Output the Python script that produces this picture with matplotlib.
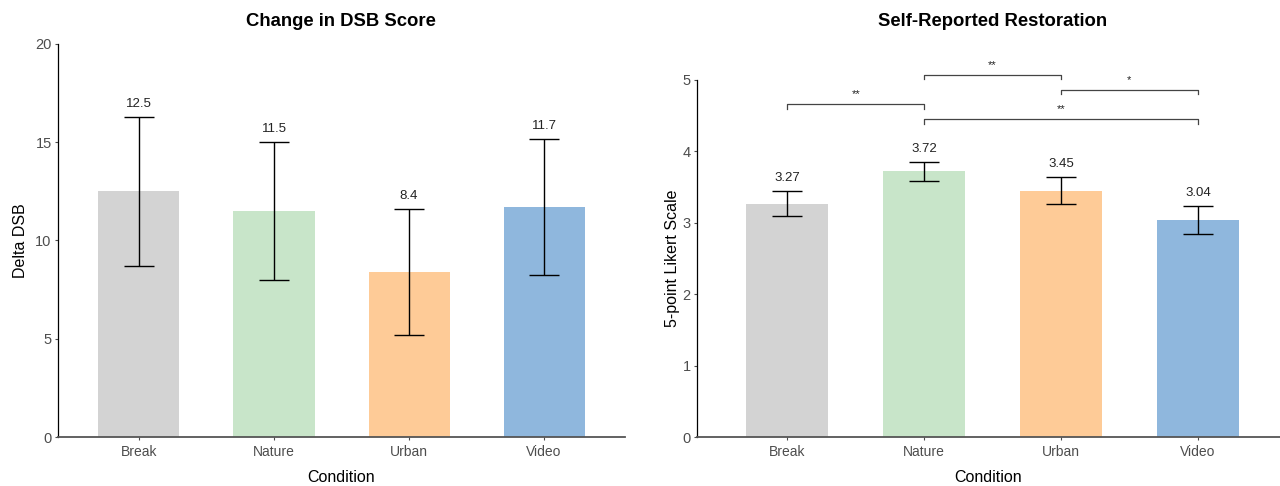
import numpy as np
import matplotlib.pyplot as plt

plt.rcParams['font.family'] = ['Liberation Sans', 'DejaVu Sans']

conditions = ['Break', 'Nature', 'Urban', 'Video']
colors = ['#d3d3d3', '#c8e5c9', '#fecb97', '#8fb7dd']

dsb_mean = [12.5, 11.5, 8.4, 11.7]
dsb_err = [3.8, 3.5, 3.2, 3.47]

rest_mean = [3.27, 3.72, 3.45, 3.04]
rest_err = [0.18, 0.13, 0.19, 0.19]

# pairwise comparisons: (left index, right index, bracket height, stars)
pairs = [(0, 1, 4.66, '**'), (1, 2, 5.07, '**'), (2, 3, 4.86, '*'), (1, 3, 4.45, '**')]

fig = plt.figure(figsize=(12.8, 4.86), dpi=100)
ax1 = fig.add_axes([0.0453, 0.1008, 0.4430, 0.8087])
ax2 = fig.add_axes([0.5445, 0.1008, 0.4555, 0.7346])


def draw_panel(ax, means, errs, ylabel, ylim, yticks, fmt, ylabelpad):
    x = np.arange(len(conditions))
    ax.bar(x, means, width=0.6, color=colors, zorder=1)
    ax.errorbar(x, means, yerr=errs, fmt='none', ecolor='black',
                elinewidth=1, capsize=11, capthick=1, zorder=2)
    for xi, m, e in zip(x, means, errs):
        ax.annotate(fmt.format(m), (xi, m + e), xytext=(0, 5),
                    textcoords='offset points', ha='center', va='bottom',
                    fontsize=9.5, color='#222222')
    ax.set_xticks(x)
    ax.set_xticklabels(conditions)
    ax.set_yticks(yticks)
    ax.set_ylim(*ylim)
    ax.set_xlim(-0.6, 3.6)
    ax.tick_params(axis='both', colors='#4d4d4d', labelsize=10, length=2.5, width=0.8)
    ax.tick_params(axis='x', pad=3.5)
    ax.tick_params(axis='y', pad=2, labelsize=10.5)
    for side in ['top', 'right']:
        ax.spines[side].set_visible(False)
    ax.spines['left'].set_color('black')
    ax.spines['left'].set_linewidth(0.9)
    ax.spines['bottom'].set_color('#555555')
    ax.spines['bottom'].set_linewidth(1.3)
    ax.set_xlabel('Condition', fontsize=11.5, color='black', labelpad=7.5)
    ax.set_ylabel(ylabel, fontsize=11.5, color='black', labelpad=ylabelpad)


draw_panel(ax1, dsb_mean, dsb_err, 'Delta DSB',
           (0, 20), [0, 5, 10, 15, 20], '{:.1f}', 5.5)

draw_panel(ax2, rest_mean, rest_err, '5-point Likert Scale',
           (0, 5), [0, 1, 2, 3, 4, 5], '{:.2f}', 2)
ax2.set_xlim(-0.66, 3.6)

fig.text(341 / 1280, 1 - 22 / 486, 'Change in DSB Score', ha='center', va='center',
         fontsize=13.3, fontweight='bold')
fig.text(993 / 1280, 1 - 22 / 486, 'Self-Reported Restoration', ha='center', va='center',
         fontsize=13.3, fontweight='bold')

# significance brackets above the bars
tick = 0.06
for i, j, h, stars in pairs:
    ax2.plot([i, i, j, j], [h - tick, h, h, h - tick], color='#444444',
             lw=0.9, clip_on=False)
    ax2.text((i + j) / 2, h + 0.07, stars, ha='center', va='bottom',
             fontsize=8, color='#222222', clip_on=False)

fig.savefig('out.png', dpi=100)
